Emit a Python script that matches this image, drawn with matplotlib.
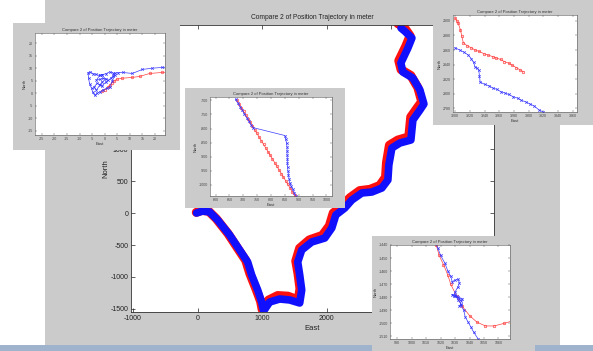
import matplotlib.pyplot as plt

plt.rcParams['font.family'] = ['Liberation Sans', 'DejaVu Sans']
plt.rcParams['axes.unicode_minus'] = False

W, H = 593, 351
GRAY = '#cbcbcb'
TITLE = 'Compare 2 of Position Trajectory in meter'

# main trajectory (East, North) in meters
main_red_e = [-20, 60, 170, 290, 470, 620, 745, 810, 905, 975, 1000, 1100,
              1240, 1400, 1560, 1585, 1555, 1520, 1580, 1730, 1930, 2040,
              2100, 2240, 2360, 2510, 2670, 2820, 2910, 2925, 2970, 3100,
              3270, 3300, 3405, 3470, 3410, 3300, 3150, 3115, 3225, 3290,
              3200, 3100]
main_red_n = [10, 40, 30, -90, -320, -550, -740, -950, -1190, -1380, -1510,
              -1360, -1290, -1300, -1360, -1180, -950, -750, -550, -420,
              -350, -200, 0, 110, 240, 350, 370, 430, 560, 790, 1060, 1140,
              1190, 1500, 1650, 1740, 1960, 2150, 2240, 2380, 2610, 2770,
              2900, 2960]
main_blue_e = [-16, 78, 186, 310, 496, 651, 775, 837, 930, 992, 1023, 1116,
               1271, 1426, 1581, 1612, 1581, 1550, 1612, 1767, 1969, 2078,
               2140, 2279, 2388, 2543, 2698, 2853, 2946, 2961, 3008, 3132,
               3302, 3333, 3442, 3504, 3442, 3333, 3178, 3147, 3256, 3318,
               3209, 3150]
main_blue_n = [0, 31, 16, -109, -344, -578, -766, -969, -1203, -1391, -1531,
               -1391, -1344, -1359, -1406, -1203, -969, -766, -578, -453,
               -391, -234, -31, 78, 203, 313, 328, 391, 516, 750, 1016,
               1094, 1141, 1453, 1609, 1703, 1922, 2109, 2203, 2344, 2578,
               2734, 2840, 2890]

# zoom around the start point
start_red_e = [-1.0, 0.2, 1.2, 2.0, 2.8, 3.8, 4.8, 7.0, 10.7, 13.9, 17.9,
               23.0, 27.0]
start_red_n = [0.8, 1.5, 2.4, 3.2, 4.0, 4.8, 5.6, 6.0, 6.3, 6.7, 7.9, 8.3,
               8.6]
start_blue_e = [-1.0, -2.0, -3.5, -4.6, -5.8, -6.6, -6.4, -6.0, -5.2, -4.8,
                -4.0, -3.0, -2.0, -0.5, 1.0, 2.0, 3.0, 4.0, 3.2, 2.0, 0.5,
                -1.0, -2.0, -3.3, -2.0, -0.5, 0.7, -1.0, -2.0, -3.3, -4.2,
                -3.0, -1.0, 0.5, 1.5, 2.5, 3.4, 4.0, 5.5, 7.1, 11.0, 15.0,
                19.0, 23.0, 27.0]
start_blue_n = [7.4, 7.1, 7.5, 7.8, 8.5, 8.2, 6.0, 3.8, 2.0, 0.5, -0.8,
                0.0, 0.5, 1.5, 2.0, 2.5, 4.8, 7.1, 8.2, 8.5, 7.8, 7.4, 7.1,
                5.2, 5.5, 6.0, 5.8, 4.5, 3.2, 1.2, 2.5, 4.0, 3.0, 4.5, 5.2,
                6.0, 7.0, 8.0, 8.2, 8.3, 7.9, 9.5, 10.0, 10.3, 10.6]

# zoom around (800, -850)
mid_red_e = [677, 685, 693, 701, 709, 717, 725, 733, 741, 749, 757, 765,
             773, 781, 789, 797, 805, 813, 821, 829, 837, 845, 853, 861,
             869, 877, 885, 890]
mid_red_n = [-700, -713, -726, -739, -752, -765, -778, -791, -804, -817,
             -830, -843, -856, -869, -882, -895, -908, -921, -934, -947,
             -960, -973, -986, -999, -1012, -1025, -1038, -1046]
mid_blue_e = [672, 680, 688, 696, 704, 712, 720, 728, 736, 850, 853, 856,
              858, 858, 858, 859, 859, 860, 861, 863, 865, 868, 872, 878,
              884, 890, 895]
mid_blue_n = [-696, -709, -722, -735, -748, -761, -774, -787, -797, -825,
              -838, -852, -866, -880, -894, -908, -922, -936, -950, -964,
              -978, -992, -1004, -1016, -1028, -1040, -1050]

# zoom around the northern end
top_red_e = [3200, 3202, 3204, 3207, 3209, 3211, 3216, 3222, 3227, 3233,
             3239, 3245, 3251, 3256, 3262, 3267, 3273, 3278, 3283, 3288,
             3293]
top_red_n = [2904, 2900, 2897, 2888, 2879, 2870, 2866, 2863, 2860, 2858,
             2855, 2853, 2851, 2849, 2847, 2844, 2842, 2839, 2836, 2833,
             2830]
top_blue_e = [3200, 3206, 3212, 3218, 3222, 3225, 3227, 3230, 3232, 3233,
              3234, 3240, 3246, 3251, 3257, 3262, 3268, 3273, 3279, 3285,
              3290, 3296, 3302, 3308, 3314, 3320, 3326, 3332]
top_blue_n = [2863, 2860, 2857, 2853, 2848, 2843, 2837, 2835, 2833, 2825,
              2816, 2813, 2811, 2808, 2806, 2803, 2801, 2799, 2796, 2794,
              2791, 2789, 2786, 2783, 2778, 2775, 2772, 2768]

# zoom around the southern turn
bot_red_e = [1017, 1019, 1022, 1025, 1027, 1031, 1035, 1040, 1045, 1051,
             1057, 1064, 1070]
bot_red_n = [-1440, -1448, -1455, -1463, -1470, -1479, -1487, -1494, -1499,
             -1502, -1502, -1500, -1498]
bot_blue_e = [1015, 1018, 1020, 1023, 1025, 1027, 1028, 1030, 1032, 1033,
              1032, 1030, 1029, 1028, 1030, 1032, 1035, 1034, 1033, 1031,
              1030, 1032, 1034, 1033, 1034, 1036, 1037, 1039, 1041, 1043,
              1046]
bot_blue_n = [-1435, -1442, -1448, -1454, -1460, -1464, -1468, -1467,
              -1466, -1469, -1472, -1476, -1479, -1478, -1479, -1480, -1481,
              -1483, -1481, -1479, -1478, -1482, -1485, -1487, -1486, -1490,
              -1495, -1499, -1503, -1507, -1512]


def fbox(x0, y0, x1, y1):
    return [x0 / W, 1 - y1 / H, (x1 - x0) / W, (y1 - y0) / H]


def window(fig, x0, y0, x1, y1, color=GRAY):
    # plain rectangle standing in for a figure window's background
    bg = fig.add_axes(fbox(x0, y0, x1, y1))
    bg.set_facecolor(color)
    bg.set_xticks([])
    bg.set_yticks([])
    for s in bg.spines.values():
        s.set_visible(False)
    return bg


def inset(fig, box, win, re, rn, be, bn, xlim, ylim, xt, yt):
    window(fig, *win)
    ax = fig.add_axes(fbox(*box))
    ax.plot(re, rn, '-o', color='#ff4040', lw=0.5, ms=1.8, mfc='none',
            mew=0.5)
    ax.plot(be, bn, '-x', color='#3a3aff', lw=0.5, ms=1.8, mew=0.5)
    ax.set_xlim(*xlim)
    ax.set_ylim(*ylim)
    ax.set_xticks(xt)
    ax.set_yticks(yt)
    ax.tick_params(labelsize=2.6, length=1.5, width=0.3, pad=1.5,
                   top=True, right=True, direction='in', colors='#444444')
    for s in ax.spines.values():
        s.set_linewidth(0.4)
        s.set_color('#555555')
    ax.set_title(TITLE, fontsize=3, pad=1.5, color='#333333')
    ax.set_xlabel('East', fontsize=3, labelpad=0.5, color='#333333')
    ax.set_ylabel('North', fontsize=3, labelpad=1, color='#333333')
    return ax


fig = plt.figure(figsize=(W / 100, H / 100), dpi=100)
fig.patch.set_facecolor('white')

# main figure window and the strip along the bottom
window(fig, 45, 0, 560, 345)
window(fig, 0, 345, 593, 351, '#9fb4cc')

ax = fig.add_axes(fbox(131, 25, 494, 312))
ax.plot(main_red_e, main_red_n, color='#ff1010', lw=6.5,
        solid_joinstyle='round', solid_capstyle='round')
ax.plot(main_blue_e, main_blue_n, color='#1010ff', lw=5.5,
        solid_joinstyle='round', solid_capstyle='round')
ax.set_xlim(-1031, 4589)
ax.set_ylim(-1547, 2938)
ax.set_xticks([-1000, 0, 1000, 2000, 3000, 4000])
ax.set_yticks([-1500, -1000, -500, 0, 500, 1000, 1500, 2000, 2500])
ax.tick_params(labelsize=5, length=3, width=0.5, top=True, right=True,
               direction='in', pad=2, colors='#222222')
for s in ax.spines.values():
    s.set_linewidth(0.6)
    s.set_color('#333333')
ax.set_title(TITLE, fontsize=4.8, pad=4.5, color='#222222')
ax.set_xlabel('East', fontsize=5.5, labelpad=2, color='#222222')
ax.set_ylabel('North', fontsize=5.5, labelpad=1, color='#222222')

inset(fig, (35, 33, 165, 135), (13, 23, 180, 150),
      start_red_e, start_red_n, start_blue_e, start_blue_n,
      (-27.7, 24), (-16.6, 24),
      [-25, -20, -15, -10, -5, 0, 5, 10, 15, 20],
      [-15, -10, -5, 0, 5, 10, 15, 20])

inset(fig, (210, 97, 332, 196), (185, 88, 345, 208),
      mid_red_e, mid_red_n, mid_blue_e, mid_blue_n,
      (580, 1020), (-1040, -688),
      [600, 650, 700, 750, 800, 850, 900, 950, 1000],
      [-1000, -950, -900, -850, -800, -750, -700])

inset(fig, (453, 15, 577, 112), (433, 0, 593, 125),
      top_red_e, top_red_n, top_blue_e, top_blue_n,
      (3197, 3366), (2775, 2908),
      [3200, 3220, 3240, 3260, 3280, 3300, 3320, 3340, 3360],
      [2780, 2800, 2820, 2840, 2860, 2880, 2900])

inset(fig, (390, 245, 510, 339), (372, 236, 535, 351),
      bot_red_e, bot_red_n, bot_blue_e, bot_blue_n,
      (985, 1068), (-1512, -1440),
      [990, 1000, 1010, 1020, 1030, 1040, 1050, 1060],
      [-1510, -1500, -1490, -1480, -1470, -1460, -1450, -1440])

fig.savefig('out.png', dpi=100)
